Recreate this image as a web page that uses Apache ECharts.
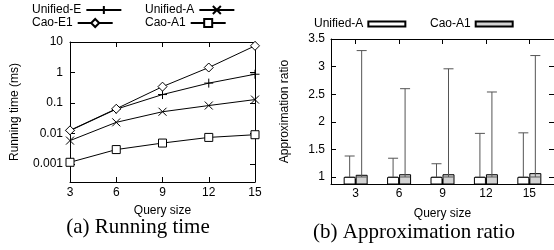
<!DOCTYPE html>
<html>
<head>
<meta charset="utf-8">
<script src="https://cdn.jsdelivr.net/npm/echarts@6/dist/echarts.min.js"></script>
<style>
html, body { margin: 0; padding: 0; background: #fff; }
#chart { width: 554px; height: 250px; }
</style>
</head>
<body>
<div id="chart"></div>
<script>
const querySizes = [3, 6, 9, 12, 15]

// (a) running time, ms
const unifiedE = [0.0125, 0.063, 0.19, 0.45, 0.88]
const caoE1 = [0.0128, 0.065, 0.345, 1.46, 7.5]
const unifiedA = [0.0059, 0.0234, 0.052, 0.083, 0.13]
const caoA1 = [0.00115, 0.0030, 0.0049, 0.0075, 0.0092]

// (b) approximation ratio: bar value and error range
const ratioUnifiedA = [1.0, 1.0, 1.0, 1.0, 1.0]
const ratioUnifiedALow = [1.0, 1.0, 1.0, 1.0, 1.0]
const ratioUnifiedAHigh = [1.38, 1.34, 1.24, 1.79, 1.80]
const ratioCaoA1 = [1.04, 1.05, 1.05, 1.05, 1.07]
const ratioCaoA1Low = [1.0, 1.0, 1.0, 1.0, 1.0]
const ratioCaoA1High = [3.29, 2.60, 2.96, 2.54, 3.20]

const font = 'Liberation Sans'
const black = '#000'
const positions = querySizes.map((q, i) => i + 1)

const plusPath = 'path://M0,5L10,5M5,0L5,10'
const crossPath = 'path://M0,0L10,10M10,0L0,10'

function lineSeries(name, values, symbol, size, fill) {
  return {
    type: 'line',
    name,
    xAxisIndex: 0,
    yAxisIndex: 0,
    data: querySizes.map((q, i) => [q, values[i]]),
    symbol,
    symbolSize: size,
    showAllSymbol: true,
    lineStyle: { color: black, width: 1 },
    itemStyle: { color: fill, borderColor: black, borderWidth: 1 },
    emphasis: { disabled: true },
    animation: false
  }
}

function errorSeries(low, high, offset) {
  return {
    type: 'custom',
    xAxisIndex: 2,
    yAxisIndex: 2,
    z: 5,
    data: positions.map((p, i) => [p, low[i], high[i]]),
    renderItem: (params, api) => {
      const lo = api.coord([api.value(0), api.value(1)])
      const hi = api.coord([api.value(0), api.value(2)])
      const x = lo[0] + offset
      const cap = 5
      const style = { stroke: '#555', lineWidth: 1 }
      return {
        type: 'group',
        children: [
          { type: 'line', shape: { x1: x, y1: lo[1], x2: x, y2: hi[1] }, style },
          { type: 'line', shape: { x1: x - cap, y1: hi[1], x2: x + cap, y2: hi[1] }, style },
          { type: 'line', shape: { x1: x - cap, y1: lo[1], x2: x + cap, y2: lo[1] }, style }
        ]
      }
    },
    animation: false
  }
}

const axisLine = { show: true, lineStyle: { color: black, width: 1 } }
const tickIn = { show: true, inside: true, length: 5, lineStyle: { color: black } }
const labelStyle = { color: black, fontSize: 12, fontFamily: font }
const nameStyle = { color: black, fontSize: 12, fontFamily: font }

// one legend per entry, gnuplot style: text in a fixed box, sample after it
function legend(id, name, left, top, opts) {
  return Object.assign({
    id,
    data: [name],
    left,
    top,
    padding: 0,
    align: 'right',
    itemWidth: 35,
    itemHeight: 10,
    selectedMode: false,
    textStyle: { color: black, fontSize: 12, fontFamily: font, width: 60, overflow: 'none' }
  }, opts || {})
}

const chart = echarts.init(document.getElementById('chart'))

chart.setOption({
  backgroundColor: '#fff',
  animation: false,
  legend: [
    legend('l1', 'Unified-E', 32, 4),
    legend('l2', 'Cao-E1', 32, 17),
    legend('l3', 'Unified-A', 145, 4),
    legend('l4', 'Cao-A1', 145, 17),
    legend('l5', 'Unified-A (b)', 314, 18, { icon: 'rect', itemWidth: 37, itemHeight: 5, formatter: () => 'Unified-A' }),
    legend('l6', 'Cao-A1 (b)', 430, 18, { icon: 'rect', itemWidth: 37, itemHeight: 5, formatter: () => 'Cao-A1' })
  ],
  grid: [
    { left: 70, top: 42, width: 185, height: 140 },
    { left: 331, top: 39, width: 226, height: 145 }
  ],
  xAxis: [
    {
      type: 'value', gridIndex: 0, min: 3, max: 15, interval: 3,
      axisLine, axisTick: tickIn, splitLine: { show: false },
      axisLabel: Object.assign({ margin: 5 }, labelStyle),
      name: 'Query size', nameLocation: 'middle', nameGap: 23, nameTextStyle: nameStyle
    },
    {
      type: 'value', gridIndex: 0, position: 'top', min: 3, max: 15, interval: 3,
      axisLine, axisTick: tickIn, splitLine: { show: false }, axisLabel: { show: false }
    },
    {
      type: 'value', gridIndex: 1, min: 0.432, max: 5.568,
      axisLine, splitLine: { show: false },
      axisTick: Object.assign({ customValues: positions }, tickIn),
      axisLabel: Object.assign({
        margin: 4,
        customValues: positions,
        formatter: v => String(querySizes[Math.round(v) - 1])
      }, labelStyle),
      name: 'Query size', nameLocation: 'middle', nameGap: 24, nameTextStyle: nameStyle
    },
    {
      type: 'value', gridIndex: 1, position: 'top', min: 0.432, max: 5.568,
      axisLine, splitLine: { show: false },
      axisTick: Object.assign({ customValues: positions }, tickIn),
      axisLabel: { show: false }
    }
  ],
  yAxis: [
    {
      type: 'log', gridIndex: 0, min: 0.00026, max: 10, logBase: 10,
      axisLine, axisTick: tickIn, splitLine: { show: false }, minorTick: { show: false },
      axisLabel: Object.assign({ margin: 7, showMinLabel: false }, labelStyle),
      name: 'Running time (ms)', nameLocation: 'middle', nameGap: 49, nameTextStyle: nameStyle
    },
    {
      type: 'log', gridIndex: 0, position: 'right', min: 0.00026, max: 10, logBase: 10,
      axisLine, axisTick: tickIn, splitLine: { show: false },
      axisLabel: { show: false }
    },
    {
      type: 'value', gridIndex: 1, min: 0.873, max: 3.5,
      axisLine, splitLine: { show: false },
      axisTick: Object.assign({ customValues: [1, 1.5, 2, 2.5, 3, 3.5] }, tickIn),
      axisLabel: Object.assign({ margin: 6, customValues: [1, 1.5, 2, 2.5, 3, 3.5] }, labelStyle),
      name: 'Approximation ratio', nameLocation: 'middle', nameGap: 40, nameTextStyle: nameStyle
    },
    {
      type: 'value', gridIndex: 1, position: 'right', min: 0.873, max: 3.5,
      axisLine, splitLine: { show: false },
      axisTick: Object.assign({ customValues: [1, 1.5, 2, 2.5, 3, 3.5] }, tickIn),
      axisLabel: { show: false }
    }
  ],
  series: [
    lineSeries('Unified-E', unifiedE, plusPath, 9, black),
    lineSeries('Cao-E1', caoE1, 'diamond', 9, '#fff'),
    lineSeries('Unified-A', unifiedA, crossPath, 8, black),
    lineSeries('Cao-A1', caoA1, 'rect', 8, '#fff'),
    {
      type: 'bar',
      name: 'Unified-A (b)',
      xAxisIndex: 2,
      yAxisIndex: 2,
      data: positions.map((p, i) => [p, ratioUnifiedA[i]]),
      barWidth: 12,
      barGap: '0%',
      itemStyle: { color: '#fff', borderColor: black, borderWidth: 1 },
      emphasis: { disabled: true }
    },
    {
      type: 'bar',
      name: 'Cao-A1 (b)',
      xAxisIndex: 2,
      yAxisIndex: 2,
      data: positions.map((p, i) => [p, ratioCaoA1[i]]),
      barWidth: 12,
      barGap: '0%',
      itemStyle: { color: '#d3d3d3', borderColor: black, borderWidth: 1 },
      emphasis: { disabled: true }
    },
    errorSeries(ratioUnifiedALow, ratioUnifiedAHigh, -6),
    errorSeries(ratioCaoA1Low, ratioCaoA1High, 6)
  ],
  graphic: [
    {
      type: 'text', x: 138, y: 227,
      style: { text: '(a) Running time', fill: black, font: '21px "Liberation Serif"', textAlign: 'center', textVerticalAlign: 'middle' }
    },
    {
      type: 'text', x: 414, y: 232,
      style: { text: '(b) Approximation ratio', fill: black, font: '21px "Liberation Serif"', textAlign: 'center', textVerticalAlign: 'middle' }
    }
  ]
})
</script>
</body>
</html>
